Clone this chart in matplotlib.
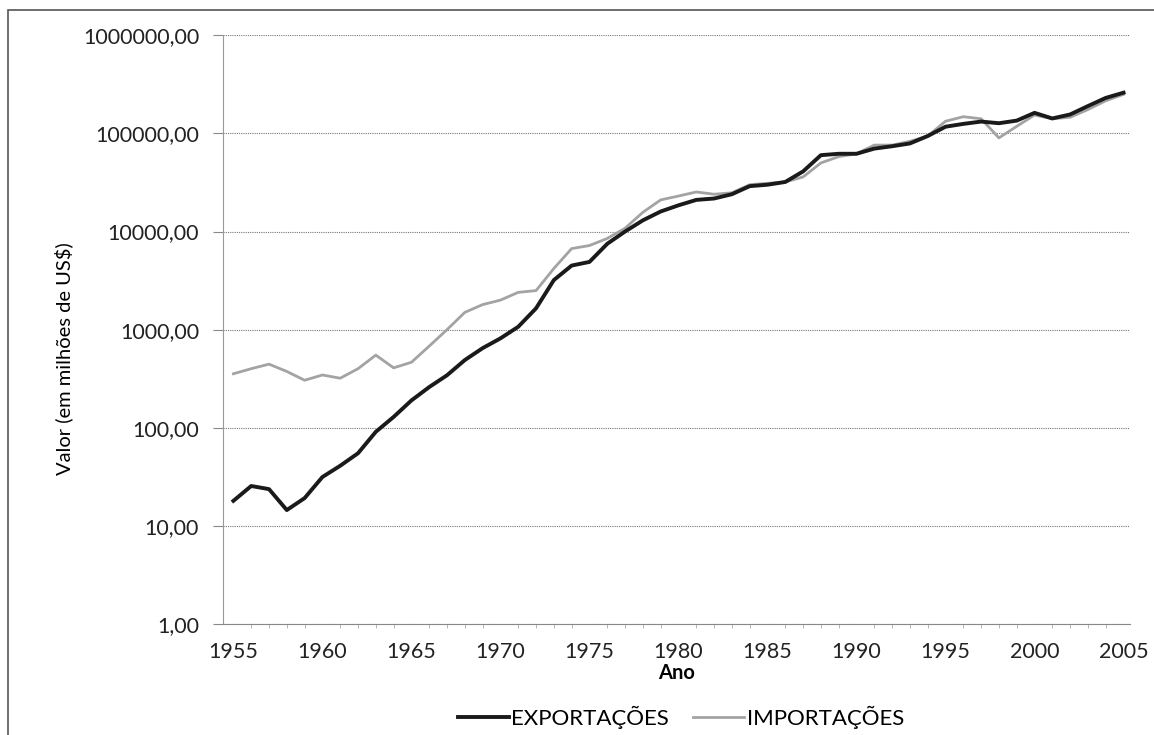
import matplotlib
matplotlib.use("Agg")
import matplotlib.pyplot as plt
from matplotlib.ticker import FixedLocator, MultipleLocator, FuncFormatter
from matplotlib.patches import Rectangle

plt.rcParams['font.family'] = ['Lato', 'DejaVu Sans']

# =========================================================
# DATA (US$ millions)
# =========================================================
anos = list(range(1955, 2006))

exportacoes = [18, 25.5, 23.7, 14.5, 19.2, 31.5, 41, 55, 91, 129,
               190, 260, 343, 490, 648, 815, 1070, 1650, 3200, 4500,
               4900, 7500, 10000, 13000, 16000, 18500, 21000, 21700, 24000, 29000,
               30000, 32000, 41000, 60000, 62000, 62000, 70000, 74000, 79000, 94000,
               117000, 125000, 132000, 127000, 135000, 162000, 142000, 156000, 190000, 230000,
               260000]

importacoes = [355, 400, 445, 375, 305, 345, 320, 400, 550, 408,
               465, 680, 1000, 1500, 1800, 2000, 2400, 2500, 4200, 6700,
               7200, 8500, 10800, 15700, 21000, 23000, 25300, 24000, 24800, 30000,
               31000, 32000, 36000, 50000, 58000, 62000, 76000, 76000, 83000, 94000,
               133000, 148000, 141000, 90000, 118000, 154000, 141000, 146000, 175000, 215000,
               250000]

y_ticks = [1, 10, 100, 1000, 10000, 100000, 1000000]
x_ticks = list(range(1955, 2006, 5))

# =========================================================
# PLOT
# =========================================================
fig = plt.figure(figsize=(11.54, 7.35), dpi=100)
ax = fig.add_axes([0.193, 0.151, 0.786, 0.801])

ax.plot(anos, exportacoes, color="#1a1a1a", lw=2.8, label="EXPORTAÇÕES", zorder=3)
ax.plot(anos, importacoes, color="#a3a3a3", lw=2.0, label="IMPORTAÇÕES", zorder=2)

ax.set_yscale("log")
ax.set_ylim(1, 1000000)
ax.set_xlim(1954.4, 2005.35)

ax.yaxis.set_major_locator(FixedLocator(y_ticks))
ax.yaxis.set_minor_locator(FixedLocator([]))
ax.yaxis.set_major_formatter(FuncFormatter(lambda v, p: f"{int(round(v))},00"))
ax.set_xticks(x_ticks)
ax.xaxis.set_minor_locator(MultipleLocator(1))

ax.grid(axis="y", color="#777777", lw=0.8, ls=(0, (1, 1)))
for s in ["top", "right"]:
    ax.spines[s].set_visible(False)
ax.spines["left"].set_color("#999999")
ax.spines["left"].set_linestyle((0, (1, 1)))
ax.spines["bottom"].set_color("#888888")
ax.spines["bottom"].set_linestyle((0, (1, 1)))

ax.tick_params(axis="y", labelsize=15.5, length=7, color="#888888", pad=10, labelcolor="#222222")
ax.tick_params(axis="x", which="major", labelsize=15.5, length=0, pad=13, labelcolor="#222222")
ax.tick_params(axis="x", which="minor", length=3, color="#aaaaaa")

ax.set_ylabel("Valor (em milhões de US$)", fontsize=14.5, labelpad=16)
ax.yaxis.set_label_coords(-0.165, 0.45)
ax.set_xlabel("Ano", fontsize=14.5, fontweight="bold", labelpad=1)

fig.legend(loc="center", bbox_to_anchor=(0.59, 0.024), ncol=2, frameon=False,
           fontsize=16, handlelength=2.3, handletextpad=0.1, columnspacing=1.1)

# chart area border
fig.patches.append(Rectangle((0.007, -0.01), 1.0, 0.996, transform=fig.transFigure,
                             fill=False, edgecolor="#555555", lw=1.2))

fig.savefig("out.png", dpi=100)
plt.close()
